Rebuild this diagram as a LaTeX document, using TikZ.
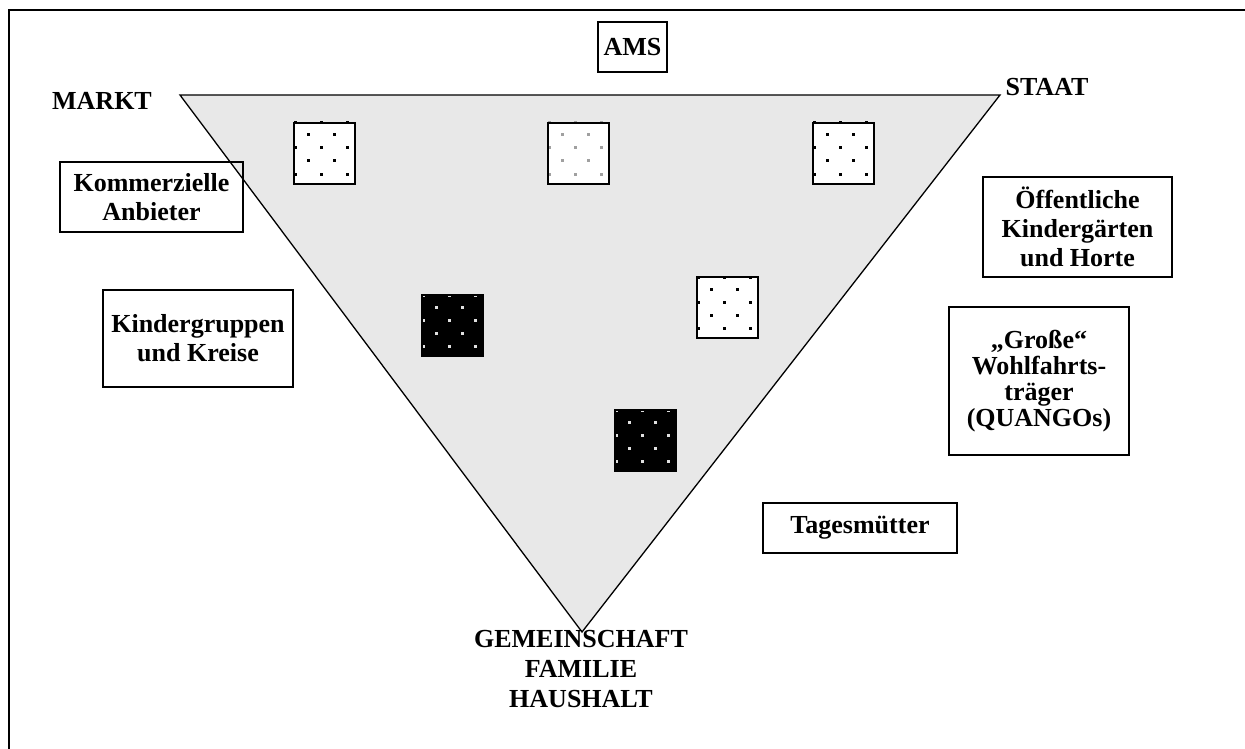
\documentclass[tikz,border=0pt]{standalone}
\usepackage{fontspec}
\setmainfont{Liberation Serif}
\definecolor{trifill}{HTML}{E8E8E8}
\definecolor{dotgray}{HTML}{A0A0A0}
\definecolor{dotlight}{HTML}{E0E0E0}
\newcommand\patsq[5]{%
  \fill[#3] (#1,#2) rectangle ++(61,61);
  \foreach \dx in {1,27,53}{\foreach \dy in {0,25,51}{\fill[#4] (#1+\dx-1.5,#2+\dy-1.5) rectangle ++(3,3);}}
  \foreach \dx in {14,40}{\foreach \dy in {12,38}{\fill[#4] (#1+\dx-1.5,#2+\dy-1.5) rectangle ++(3,3);}}
  \node[sqbox] (#5) at (#1+30.5,#2+30.5) {};
}
\begin{document}
\begin{tikzpicture}[x=1pt,y=-1pt,
  txt/.style={font=\fontsize{26}{29}\selectfont\bfseries, align=center, inner sep=0pt},
  labelbox/.style={txt, draw, line width=1.2pt},
  sqbox/.style={draw, line width=1.6pt, minimum size=61pt, inner sep=0pt},
  ]
\useasboundingbox (0,0) rectangle (1245,749);
% outer frame (only top and left edges visible)
\draw[line width=2pt] (9,749) -- (9,10) -- (1245,10);
% triangle
\coordinate (tl) at (180,95);
\coordinate (tr) at (1000,95);
\coordinate (ap) at (582,632);
\draw[fill=trifill, line width=1.3pt, line join=miter] (tl) -- (tr) -- (ap) -- cycle;
% patterned squares
\patsq{294}{123}{white}{black}{sqa}
\patsq{548}{123}{white}{dotgray}{sqb}
\patsq{813}{123}{white}{black}{sqc}
\patsq{422}{295}{black}{dotlight}{sqd}
\patsq{697}{277}{white}{black}{sqe}
\patsq{615}{410}{black}{dotlight}{sqf}
% corner labels
\node[txt, anchor=base] (markt) at (102,110) {MARKT};
\node[txt, anchor=base] (staat) at (1047,96) {STAAT};
\node[txt, anchor=base] (gem1) at (581,647) {GEMEINSCHAFT};
\node[txt, anchor=base] (gem2) at (581,677) {FAMILIE};
\node[txt, anchor=base] (gem3) at (581,707) {HAUSHALT};
% boxed labels
\node[labelbox, minimum width=69pt, minimum height=50pt] (ams) at (632.5,47) {AMS};
\node[labelbox, minimum width=183pt, minimum height=70pt] (komm) at (151.5,197) {Kommerzielle\\Anbieter};
\node[labelbox, minimum width=189pt, minimum height=100pt] (oeff) at (1077.5,227) {Öffentliche\\Kindergärten\\und Horte};
\node[labelbox, minimum width=180pt, minimum height=148pt, font=\fontsize{26}{26}\selectfont\bfseries] (gross) at (1039,381) {„Große“\\Wohlfahrts-\\träger\\(QUANGOs)};
\node[labelbox, minimum width=190pt, minimum height=97pt] (kinder) at (198,338.5) {Kindergruppen\\und Kreise};
\node[labelbox, minimum width=194pt, minimum height=50pt] (tages) at (860,528) {Tagesmütter};
\end{tikzpicture}
\end{document}
